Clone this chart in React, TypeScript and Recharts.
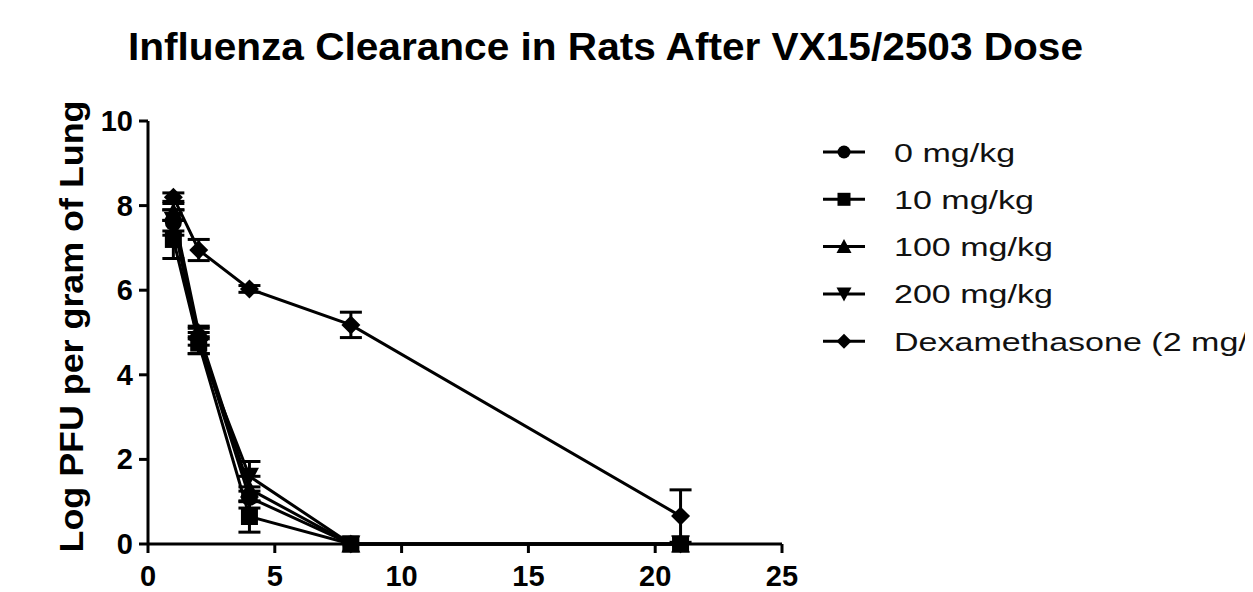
import { LineChart, Line, XAxis, YAxis, ErrorBar, Legend } from 'recharts';

const days = [1, 2, 4, 8, 21];
const seriesNames = ['0 mg/kg', '10 mg/kg', '100 mg/kg', '200 mg/kg', 'Dexamethasone (2 mg/kg)'];
const seriesShapes = ['circle', 'square', 'triangle', 'triangleDown', 'diamond'];

const dose0 = [7.6, 4.9, 1.1, 0, 0];
const dose0Err = [0.3, 0.2, 0.25, 0, 0];
const dose10 = [7.2, 4.75, 0.65, 0, 0];
const dose10Err = [0.45, 0.25, 0.37, 0, 0];
const dose100 = [7.85, 5.0, 1.3, 0, 0];
const dose100Err = [0.2, 0.15, 0.3, 0, 0];
const dose200 = [7.65, 4.7, 1.6, 0, 0];
const dose200Err = [0.25, 0.2, 0.35, 0, 0];
const dexa = [8.2, 6.95, 6.03, 5.18, 0.66];
const dexaErr = [0.1, 0.25, 0.08, 0.3, 0.62];

const xTicks = [0, 5, 10, 15, 20, 25];
const yTicks = [0, 2, 4, 6, 8, 10];

const FONT = '"Liberation Sans", Arial, sans-serif';

const toRows = (vals: number[], errs: number[]) =>
  days.map((d, i) => ({ x: d, y: vals[i], err: errs[i] }));

const series = [
  toRows(dose0, dose0Err),
  toRows(dose10, dose10Err),
  toRows(dose100, dose100Err),
  toRows(dose200, dose200Err),
  toRows(dexa, dexaErr),
];

function Marker({ shape, cx, cy, s }: { shape: string; cx: number; cy: number; s: number }) {
  const h = s / 2;
  if (shape === 'circle') return <circle cx={cx} cy={cy} r={h} fill="#000" />;
  if (shape === 'square') return <rect x={cx - h} y={cy - h} width={s} height={s} fill="#000" />;
  if (shape === 'triangle')
    return <polygon points={`${cx},${cy - h - 1} ${cx + h + 1},${cy + h} ${cx - h - 1},${cy + h}`} fill="#000" />;
  if (shape === 'triangleDown')
    return <polygon points={`${cx - h - 1},${cy - h} ${cx + h + 1},${cy - h} ${cx},${cy + h + 1}`} fill="#000" />;
  return <polygon points={`${cx},${cy - h - 1} ${cx + h + 1},${cy} ${cx},${cy + h + 1} ${cx - h - 1},${cy}`} fill="#000" />;
}

const makeDot = (shape: string) => (props: any) => {
  const { cx, cy, index } = props;
  if (cx == null || cy == null) return <g key={index} />;
  return <Marker key={index} shape={shape} cx={cx} cy={cy} s={17} />;
};

const XTick = (props: any) => {
  const { x, y, payload } = props;
  return (
    <text x={x} y={y + 31} textAnchor="middle" fontFamily={FONT} fontWeight="bold" fontSize={29} fill="#000">
      {payload.value}
    </text>
  );
};

const YTick = (props: any) => {
  const { x, y, payload } = props;
  return (
    <text x={x - 4} y={y + 10} textAnchor="end" fontFamily={FONT} fontWeight="bold" fontSize={29} fill="#000">
      {payload.value}
    </text>
  );
};

// legend drawn as svg; the last name runs off the right edge like the original
const LegendBox = () => (
  <svg width={450} height={250} style={{ overflow: 'visible' }}>
    {seriesNames.map((name, i) => {
      const cy = 27 + i * 47.3;
      return (
        <g key={name}>
          <line x1={8} x2={50} y1={cy} y2={cy} stroke="#000" strokeWidth={3} />
          <Marker shape={seriesShapes[i]} cx={29} cy={cy} s={13} />
          <text
            x={0}
            y={0}
            transform={`translate(79 ${cy + 9.5}) scale(1.285 1)`}
            fontFamily={FONT}
            fontSize={26.5}
            fill="#111"
          >
            {name}
          </text>
        </g>
      );
    })}
  </svg>
);

const YLabel = (props: any) => {
  const { viewBox } = props;
  const cx = 75;
  const cy = viewBox.y + viewBox.height / 2 - 6;
  return (
    <text
      x={cx}
      y={cy}
      transform={`rotate(-90 ${cx} ${cy})`}
      textAnchor="middle"
      fontFamily={FONT}
      fontWeight="bold"
      fontSize={33}
      textLength={452}
      lengthAdjust="spacingAndGlyphs"
      fill="#000"
    >
      Log PFU per gram of Lung
    </text>
  );
};

export default function App() {
  return (
    <div style={{ position: 'relative', width: 1245, height: 584, overflow: 'hidden' }}>
      <svg width={1245} height={70} style={{ position: 'absolute', left: 0, top: 0 }}>
        <text
          x={597.5}
          y={52}
          textAnchor="middle"
          fontFamily={FONT}
          fontWeight="bold"
          fontSize={38}
          textLength={955}
          lengthAdjust="spacingAndGlyphs"
          fill="#000"
        >
          Influenza Clearance in Rats After VX15/2503 Dose
        </text>
      </svg>
      <LineChart width={1245} height={584} margin={{ top: 113, right: 471, bottom: 8, left: 60 }}>
        <XAxis
          dataKey="x"
          type="number"
          domain={[0, 25]}
          ticks={xTicks}
          height={40}
          allowDataOverflow
          axisLine={{ stroke: '#000', strokeWidth: 3 }}
          tickLine={{ stroke: '#000', strokeWidth: 3 }}
          tickSize={9}
          tick={<XTick />}
        />
        <YAxis
          type="number"
          domain={[0, 10]}
          ticks={yTicks}
          width={80}
          axisLine={{ stroke: '#000', strokeWidth: 3 }}
          tickLine={{ stroke: '#000', strokeWidth: 3 }}
          tickSize={9}
          tick={<YTick />}
          label={<YLabel />}
        />
        <Legend
          layout="vertical"
          align="center"
          verticalAlign="middle"
          wrapperStyle={{ position: 'absolute', left: 807, top: 117, width: 450 }}
          content={() => <LegendBox />}
        />
        {series.map((rows, i) => (
          <Line
            key={seriesNames[i]}
            data={rows}
            dataKey="y"
            name={seriesNames[i]}
            stroke="#000"
            strokeWidth={3}
            dot={makeDot(seriesShapes[i])}
            activeDot={false}
            isAnimationActive={false}
          >
            <ErrorBar dataKey="err" direction="y" width={11} strokeWidth={3} stroke="#000" isAnimationActive={false} />
          </Line>
        ))}
      </LineChart>
    </div>
  );
}
